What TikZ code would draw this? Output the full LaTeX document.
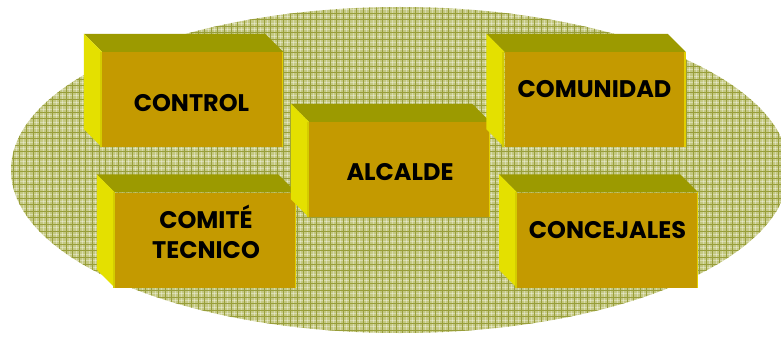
\documentclass[tikz,border=0pt]{standalone}
\usepackage{fontspec}
\setmainfont{Poppins}
\definecolor{boxfront}{RGB}{196,154,0}
\definecolor{boxtop}{RGB}{156,154,0}
\definecolor{boxside}{RGB}{228,224,0}
\definecolor{boxseam}{RGB}{212,204,0}
\definecolor{boxrim}{RGB}{226,206,0}
\definecolor{gridbase}{RGB}{196,200,130}
\definecolor{gridline}{RGB}{152,158,58}
\newcommand\boxfaces[1]{%
  \fill[boxtop] (#1.north west) -- ++(-18,-18)
    -- ([shift={(-18,-18)}]#1.north east) -- (#1.north east) -- cycle;
  \fill[boxside] (#1.north west) -- ++(-18,-18)
    -- ([shift={(-18,-18)}]#1.south west) -- (#1.south west) -- cycle;
  \draw[boxseam, line width=2pt] ([xshift=-1pt]#1.north west) -- ([xshift=-1pt]#1.south west);
  \draw[boxrim, line width=1.5pt] ([xshift=-0.75pt]#1.north east) -- ([xshift=-0.75pt]#1.south east);
}
\begin{document}
\begin{tikzpicture}[x=1pt,y=-1pt,
  front/.style={draw=none, fill=boxfront, minimum width=181pt, minimum height=95pt, inner sep=0pt},
  lbl/.style={font=\bfseries\fontsize{24}{30}\selectfont, text=black, inner sep=0pt, align=center}]
\useasboundingbox (0,0) rectangle (781,337);
% patterned oval backdrop
\begin{scope}
  \clip (400,170) ellipse [x radius=389pt, y radius=163pt];
  \fill[gridbase] (0,0) rectangle (800,340);
  \foreach \k in {0,...,121} {
    \draw[white, opacity=0.35, line width=0.8pt] (\k*6.6+3.3,0) -- (\k*6.6+3.3,340);
  }
  \foreach \k in {0,...,52} {
    \draw[white, opacity=0.35, line width=0.8pt] (0,\k*6.6+3.3) -- (800,\k*6.6+3.3);
  }
  \foreach \k in {0,...,121} {
    \draw[gridline, line width=1pt] (\k*6.6,0) -- (\k*6.6,340);
  }
  \foreach \k in {0,...,52} {
    \draw[gridline, line width=1pt] (0,\k*6.6) -- (800,\k*6.6);
  }
\end{scope}
% blocks, back to front
\node[front] (control) at (192.5,99.5) {};
\boxfaces{control}
\node[front] (comite) at (205.5,240) {};
\boxfaces{comite}
\node[front] (concejales) at (607.5,240) {};
\boxfaces{concejales}
\node[front] (alcalde) at (399.5,169.5) {};
\boxfaces{alcalde}
\node[front] (comunidad) at (595,99.5) {};
\boxfaces{comunidad}
% labels
\node[lbl] (control-t) at (191.5,103) {CONTROL};
\node[lbl] (alcalde-t) at (400,172.5) {ALCALDE};
\node[lbl] (comunidad-t) at (594.5,89.5) {COMUNIDAD};
\node[lbl] (comite-t) at (206,232) {COMITÉ\\TECNICO};
\node[lbl] (concejales-t) at (607.5,230) {CONCEJALES};
\end{tikzpicture}
\end{document}
